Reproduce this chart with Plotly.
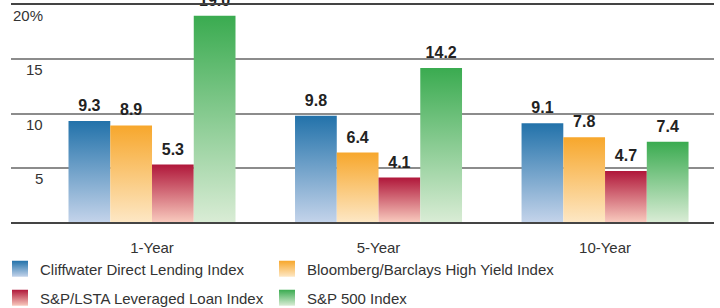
import plotly.graph_objects as go

categories = ["1-Year", "5-Year", "10-Year"]
series_names = [
    "Cliffwater Direct Lending Index",
    "Bloomberg/Barclays High Yield Index",
    "S&P/LSTA Leveraged Loan Index",
    "S&P 500 Index",
]
cliffwater = [9.3, 9.8, 9.1]
bloomberg_hy = [8.9, 6.4, 7.8]
leveraged_loan = [5.3, 4.1, 4.7]
sp500 = [19.0, 14.2, 7.4]
y_tick_values = [5, 10, 15, 20]
y_tick_labels = ["5", "10", "15", "20%"]

top_colors = ["#2272aa", "#f7a72c", "#b0173a", "#3aab50"]
bottom_colors = ["#c3d3ea", "#fde7c4", "#f8c9bd", "#d9ecd5"]

FONT = "Liberation Sans, Arial, sans-serif"
BAR_W = 0.1843

series = [cliffwater, bloomberg_hy, leveraged_loan, sp500]
legend_ids = ["legend", "legend2", "legend3", "legend4"]
# legend placement (container fractions): column x, row y
legend_pos = [(0.0, (308 - 269) / 308), (267 / 720, (308 - 269) / 308),
              (0.0, (308 - 298) / 308), (267 / 720, (308 - 298) / 308)]

fig = go.Figure()

for s, (name, vals) in enumerate(zip(series_names, series)):
    offset = (s - 1.5) * BAR_W
    for g, v in enumerate(vals):
        xc = g + offset
        x0, x1 = xc - BAR_W / 2, xc + BAR_W / 2
        fig.add_trace(go.Scatter(
            x=[x0, x1, x1, x0, x0], y=[0, 0, v, v, 0],
            fill="toself", mode="none",
            fillgradient=dict(type="vertical",
                              colorscale=[[0, bottom_colors[s]], [1, top_colors[s]]]),
            showlegend=False, hoverinfo="skip", name=name,
        ))
    fig.add_trace(go.Scatter(
        x=[g + offset for g in range(len(vals))], y=vals,
        mode="markers+text", text=[f"{v:.1f}" for v in vals],
        textposition="top center", cliponaxis=False,
        marker=dict(size=8, opacity=0),
        textfont=dict(family=FONT, size=16, color="#222222", weight="bold"),
        showlegend=False, hoverinfo="skip",
    ))
    fig.add_trace(go.Scatter(
        x=[None], y=[None], mode="markers", name=name,
        marker=dict(symbol="square", size=20, color=top_colors[s],
                    gradient=dict(type="vertical", color=bottom_colors[s])),
        legend=legend_ids[s],
    ))

annotations = []
for v, lab in zip(y_tick_values, y_tick_labels):
    annotations.append(dict(
        x=(45 - 11) / 703, xref="paper", xanchor="right",
        y=v, yref="y", yanchor="top", showarrow=False, text=lab,
        font=dict(family=FONT, size=15, color="#333333"),
    ))

legend_layout = {}
for lid, (lx, ly) in zip(legend_ids, legend_pos):
    legend_layout[lid] = dict(
        orientation="h", xref="container", yref="container",
        x=lx, y=ly, xanchor="left", yanchor="middle",
        font=dict(family=FONT, size=15, color="#333333"),
        bgcolor="rgba(0,0,0,0)", itemclick=False, itemdoubleclick=False,
    )

fig.update_layout(
    width=720, height=308,
    margin=dict(l=11, r=6, t=5, b=86, autoexpand=False),
    paper_bgcolor="white", plot_bgcolor="white",
    font=dict(family=FONT, size=15, color="#333333"),
    xaxis=dict(range=[-0.6225, 2.481], tickvals=[0, 1, 2], ticktext=categories,
               showgrid=False, zeroline=False, ticks="", ticklabelstandoff=11,
               automargin=False, showline=True, mirror=True,
               linecolor="#444444", linewidth=1.5,
               tickfont=dict(family=FONT, size=15, color="#333333")),
    yaxis=dict(range=[0, 20], tickvals=y_tick_values, showticklabels=False,
               automargin=False,
               gridcolor="#8c8c8c", gridwidth=1.5,
               zeroline=True, zerolinecolor="#1a1a1a", zerolinewidth=3),
    annotations=annotations,
    showlegend=True,
    **legend_layout,
)

fig.write_html("out.html", config={"displayModeBar": False},
               post_script="document.body.style.margin='0';")
